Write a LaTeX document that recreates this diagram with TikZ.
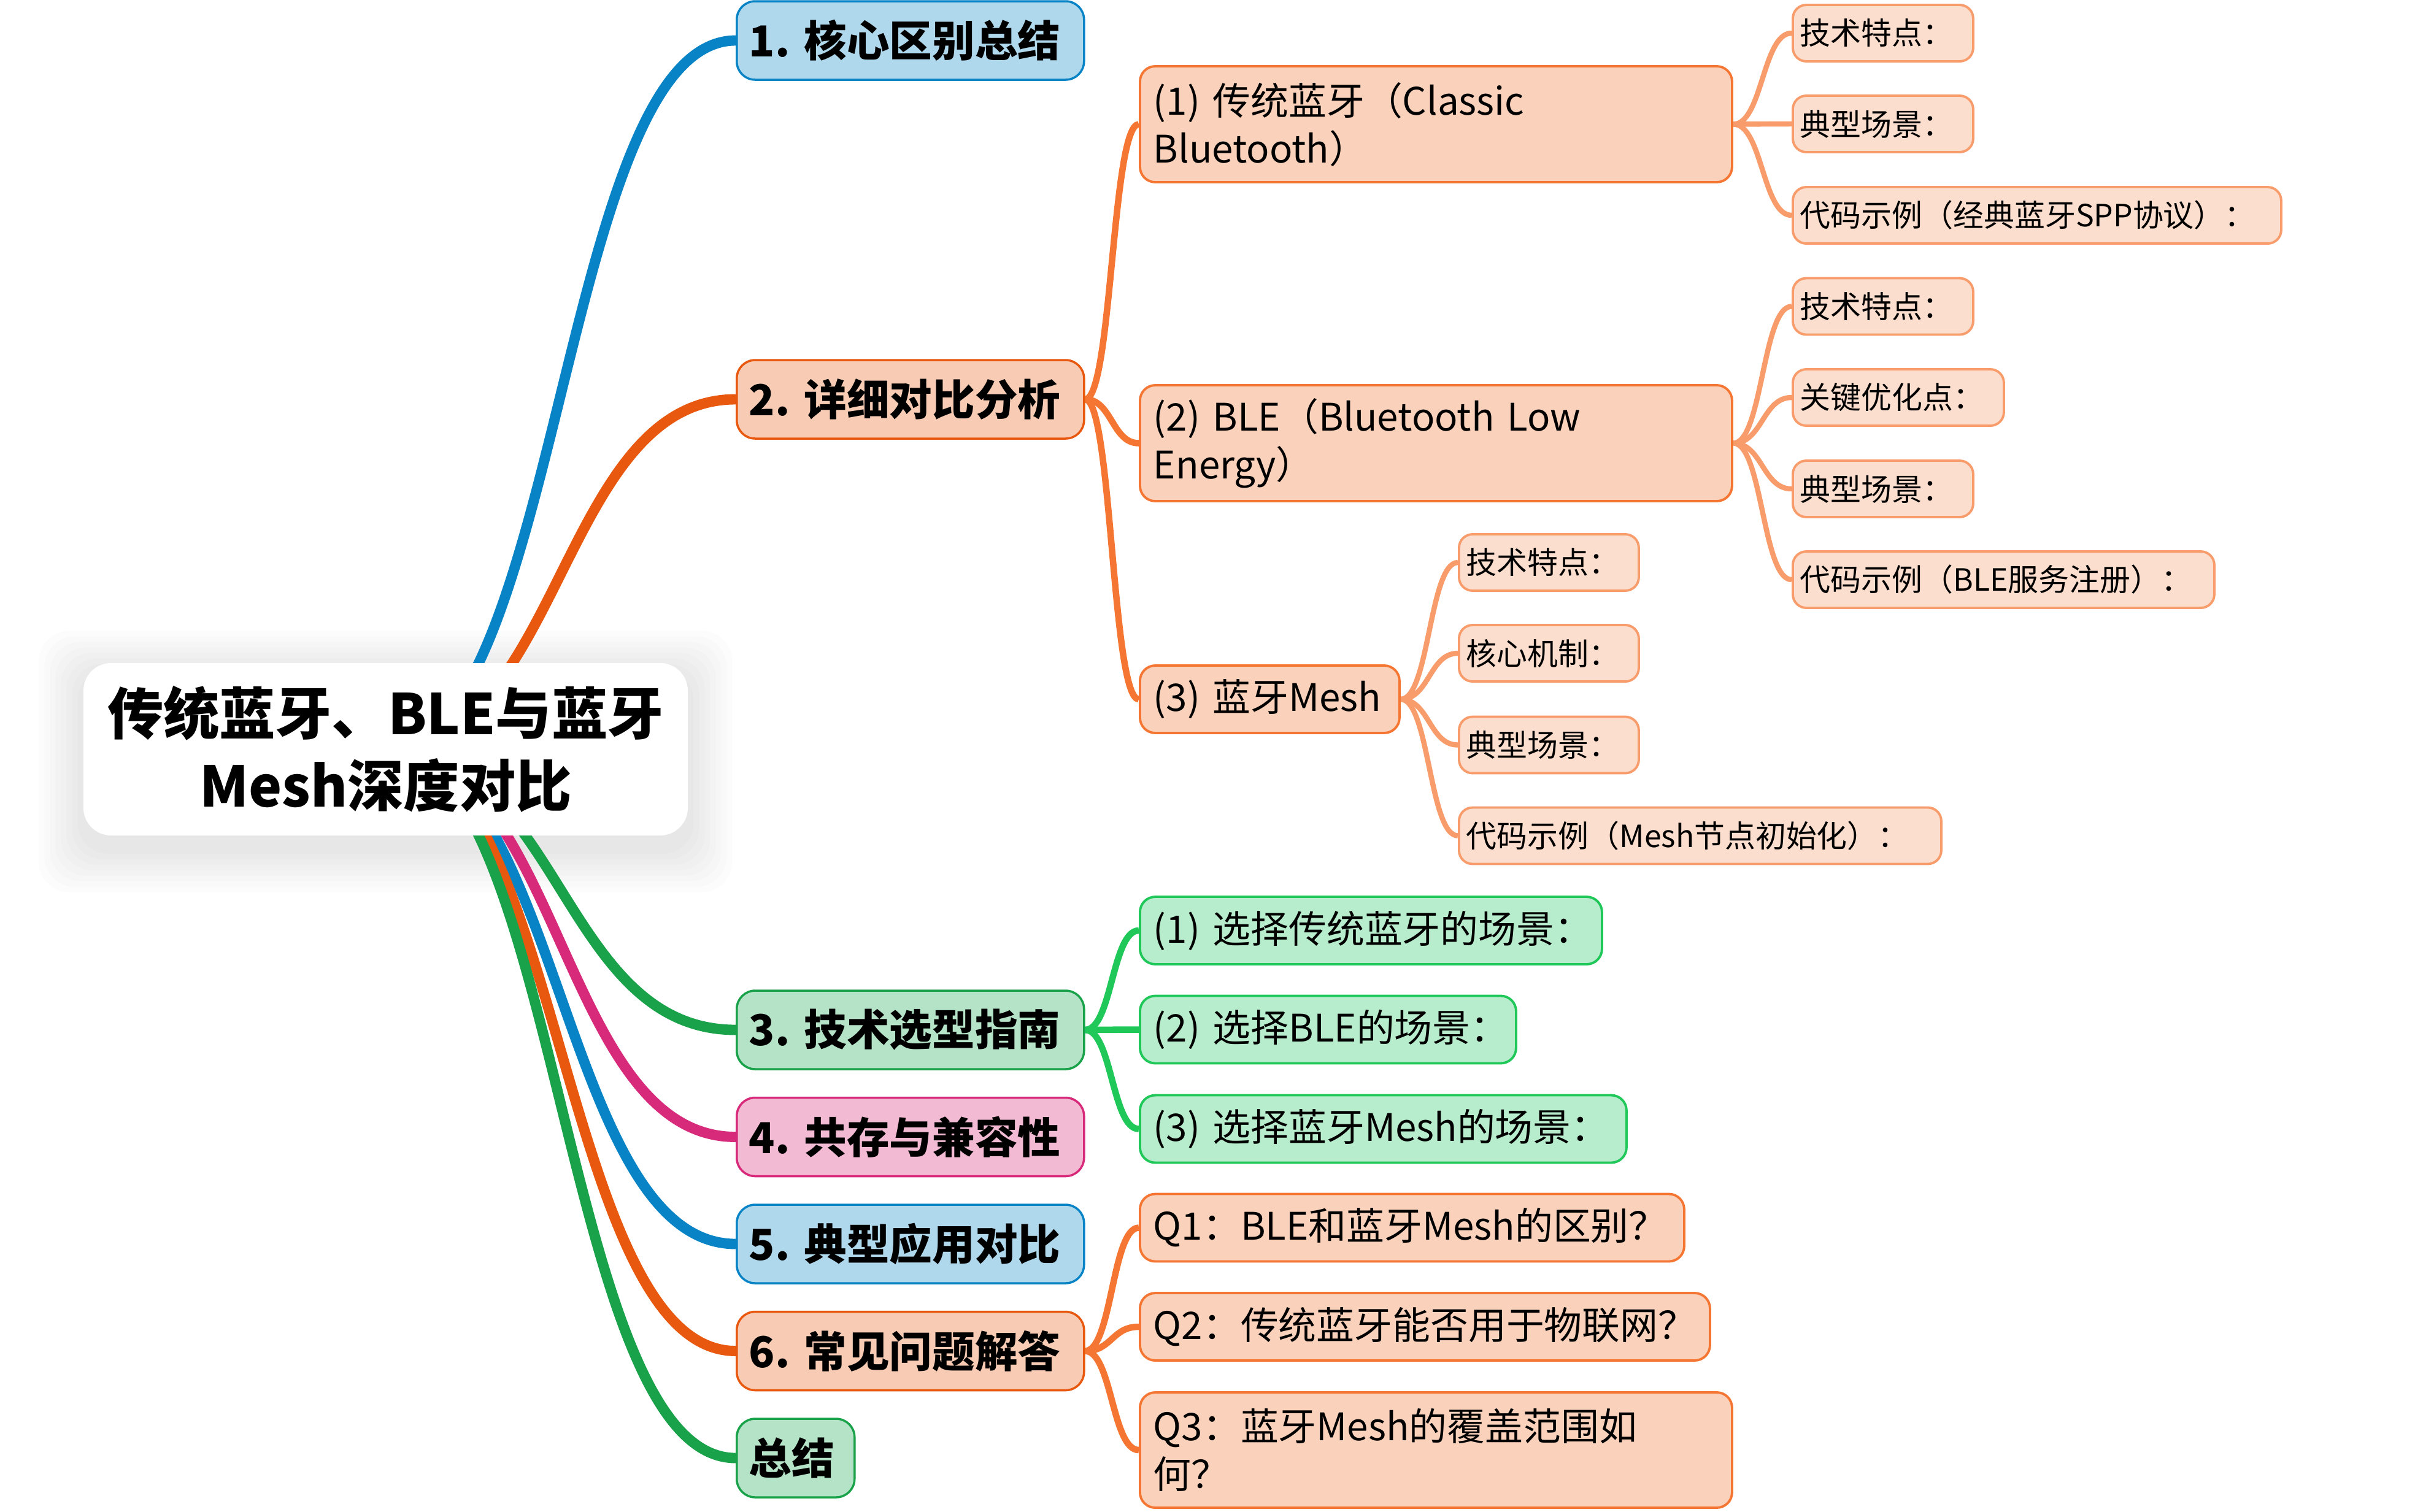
\documentclass[tikz,border=0pt]{standalone}
\usepackage{fontspec}
\newfontfamily\cjk{Noto Sans CJK SC}
\usetikzlibrary{calc,backgrounds}

\definecolor{lineBlue}{RGB}{8,132,198}
\definecolor{fillBlue}{RGB}{176,216,236}
\definecolor{lineOrange}{RGB}{232,88,14}
\definecolor{fillOrange}{RGB}{248,204,180}
\definecolor{lineGreen}{RGB}{26,162,74}
\definecolor{fillGreen}{RGB}{180,227,199}
\definecolor{linePink}{RGB}{216,42,122}
\definecolor{fillPink}{RGB}{242,187,211}
\definecolor{subOrange}{RGB}{245,118,50}
\definecolor{subOrangeFill}{RGB}{250,210,188}
\definecolor{leafOrange}{RGB}{248,156,108}
\definecolor{leafOrangeFill}{RGB}{252,222,206}
\definecolor{subGreen}{RGB}{32,200,90}
\definecolor{subGreenFill}{RGB}{183,236,205}

\tikzset{
	central/.style={fill=white, rounded corners=0.45cm, minimum width=9.85cm, minimum height=2.81cm,
		align=center, font=\cjk\bfseries\fontsize{26}{33.5}\selectfont},
	topic/.style={anchor=west, rounded corners=0.3cm, line width=1pt, minimum height=1.28cm,
		inner xsep=0.2cm, align=left, font=\cjk\bfseries\fontsize{19.8}{24}\selectfont},
	subtopic/.style={anchor=west, rounded corners=0.25cm, line width=1.1pt, minimum height=1.1cm,
		inner xsep=0.22cm, align=left, font=\cjk\fontsize{17.6}{22.2}\selectfont},
	leaf/.style={anchor=west, rounded corners=0.22cm, line width=1.1pt, minimum height=0.92cm,
		inner xsep=0.12cm, align=left, draw=leafOrange, fill=leafOrangeFill,
		font=\cjk\fontsize{14.2}{17}\selectfont},
	branch/.style={to path={.. controls ($(\tikztostart)!0.5!(\tikztostart -| \tikztotarget)$)
		and ($(\tikztotarget)!0.5!(\tikztotarget -| \tikztostart)$) .. (\tikztotarget)}},
	trunk/.style={line width=4.8pt},
	twig/.style={line width=3pt},
	leafline/.style={line width=2.4pt, leafOrange}
}

\begin{document}
\begin{tikzpicture}
	\useasboundingbox (0, 0) rectangle (39.36, -24.64);

	\node [central] (Root) at (6.285, -12.215) {传统蓝牙、BLE与蓝牙\\Mesh深度对比};

	\node [topic, draw=lineBlue, fill=fillBlue, text width=5.26cm]		(Core)		at (11.99, -0.66)	{1.~核心区别总结};
	\node [topic, draw=lineOrange, fill=fillOrange, text width=5.26cm]	(Detail)	at (11.99, -6.51)	{2.~详细对比分析};
	\node [topic, draw=lineGreen, fill=fillGreen, text width=5.26cm]	(Guide)		at (11.99, -16.79)	{3.~技术选型指南};
	\node [topic, draw=linePink, fill=fillPink, text width=5.26cm]		(Coexist)	at (11.99, -18.535)	{4.~共存与兼容性};
	\node [topic, draw=lineBlue, fill=fillBlue, text width=5.26cm]		(Apply)		at (11.99, -20.28)	{5.~典型应用对比};
	\node [topic, draw=lineOrange, fill=fillOrange, text width=5.26cm]	(FAQ)		at (11.99, -22.025)	{6.~常见问题解答};
	\node [topic, draw=lineGreen, fill=fillGreen, text width=1.52cm]	(Summary)	at (11.99, -23.77)	{总结};

	\node [subtopic, draw=subOrange, fill=subOrangeFill, text width=9.21cm, minimum height=1.89cm]
		(Classic) at (18.56, -2.025) {(1)~传统蓝牙（Classic\\Bluetooth）};
	\node [subtopic, draw=subOrange, fill=subOrangeFill, text width=9.21cm, minimum height=1.89cm]
		(Ble) at (18.56, -7.225) {(2)~BLE（Bluetooth~Low\\Energy）};
	\node [subtopic, draw=subOrange, fill=subOrangeFill, text width=3.79cm]
		(Mesh) at (18.56, -11.40) {(3)~蓝牙Mesh};

	\node [leaf, text width=2.70cm]	(ClassicFeat)	at (29.20, -0.54)	{技术特点：};
	\node [leaf, text width=2.70cm]	(ClassicScene)	at (29.20, -2.02)	{典型场景：};
	\node [leaf, text width=7.72cm]	(ClassicCode)	at (29.20, -3.51)	{代码示例（经典蓝牙SPP协议）：};
	\node [leaf, text width=2.70cm]	(BleFeat)		at (29.20, -4.995)	{技术特点：};
	\node [leaf, text width=3.20cm]	(BleOpt)		at (29.20, -6.48)	{关键优化点：};
	\node [leaf, text width=2.70cm]	(BleScene)		at (29.20, -7.97)	{典型场景：};
	\node [leaf, text width=6.63cm]	(BleCode)		at (29.20, -9.45)	{代码示例（BLE服务注册）：};
	\node [leaf, text width=2.69cm]	(MeshFeat)		at (23.76, -9.17)	{技术特点：};
	\node [leaf, text width=2.69cm]	(MeshCore)		at (23.76, -10.65)	{核心机制：};
	\node [leaf, text width=2.69cm]	(MeshScene)		at (23.76, -12.145)	{典型场景：};
	\node [leaf, text width=7.62cm]	(MeshCode)		at (23.76, -13.625)	{代码示例（Mesh节点初始化）：};

	\node [subtopic, draw=subGreen, fill=subGreenFill, text width=7.09cm]	(PickClassic)	at (18.56, -15.17)	{(1)~选择传统蓝牙的场景：};
	\node [subtopic, draw=subGreen, fill=subGreenFill, text width=5.69cm]	(PickBle)		at (18.56, -16.785)	{(2)~选择BLE的场景：};
	\node [subtopic, draw=subGreen, fill=subGreenFill, text width=7.49cm]	(PickMesh)		at (18.56, -18.405)	{(3)~选择蓝牙Mesh的场景：};

	\node [subtopic, draw=subOrange, fill=subOrangeFill, text width=8.43cm]	(QOne)	at (18.56, -20.015)	{Q1：BLE和蓝牙Mesh的区别？};
	\node [subtopic, draw=subOrange, fill=subOrangeFill, text width=8.85cm]	(QTwo)	at (18.56, -21.63)	{Q2：传统蓝牙能否用于物联网？};
	\node [subtopic, draw=subOrange, fill=subOrangeFill, text width=9.21cm, minimum height=1.88cm]
		(QThree) at (18.56, -23.64) {Q3：蓝牙Mesh的覆盖范围如\\何？};

	\begin{scope}[on background layer]
		\foreach \s in {1,...,8}
			\fill [black, opacity=0.01, rounded corners=0.5cm]
				($(Root.south west)+(-\s*0.09, -\s*0.09-0.2)$) rectangle ($(Root.north east)+(\s*0.09, \s*0.09-0.2)$);

		\draw [trunk, lineBlue]		(Root.center) to [branch] (Core.west);
		\draw [trunk, lineOrange]	(Root.center) to [branch] (Detail.west);
		\draw [trunk, lineGreen]	(Root.center) to [branch] (Guide.west);
		\draw [trunk, linePink]		(Root.center) to [branch] (Coexist.west);
		\draw [trunk, lineBlue]		(Root.center) to [branch] (Apply.west);
		\draw [trunk, lineOrange]	(Root.center) to [branch] (FAQ.west);
		\draw [trunk, lineGreen]	(Root.center) to [branch] (Summary.west);

		\draw [twig, subOrange] (Detail.east) to [branch] (Classic.west);
		\draw [twig, subOrange] (Detail.east) to [branch] (Ble.west);
		\draw [twig, subOrange] (Detail.east) to [branch] (Mesh.west);
		\draw [twig, subGreen] (Guide.east) to [branch] (PickClassic.west);
		\draw [twig, subGreen] (Guide.east) to [branch] (PickBle.west);
		\draw [twig, subGreen] (Guide.east) to [branch] (PickMesh.west);
		\draw [twig, subOrange] (FAQ.east) to [branch] (QOne.west);
		\draw [twig, subOrange] (FAQ.east) to [branch] (QTwo.west);
		\draw [twig, subOrange] (FAQ.east) to [branch] (QThree.west);

		\draw [leafline] (Classic.east) to [branch] (ClassicFeat.west);
		\draw [leafline] (Classic.east) to [branch] (ClassicScene.west);
		\draw [leafline] (Classic.east) to [branch] (ClassicCode.west);
		\draw [leafline] (Ble.east) to [branch] (BleFeat.west);
		\draw [leafline] (Ble.east) to [branch] (BleOpt.west);
		\draw [leafline] (Ble.east) to [branch] (BleScene.west);
		\draw [leafline] (Ble.east) to [branch] (BleCode.west);
		\draw [leafline] (Mesh.east) to [branch] (MeshFeat.west);
		\draw [leafline] (Mesh.east) to [branch] (MeshCore.west);
		\draw [leafline] (Mesh.east) to [branch] (MeshScene.west);
		\draw [leafline] (Mesh.east) to [branch] (MeshCode.west);
	\end{scope}
\end{tikzpicture}
\end{document}
